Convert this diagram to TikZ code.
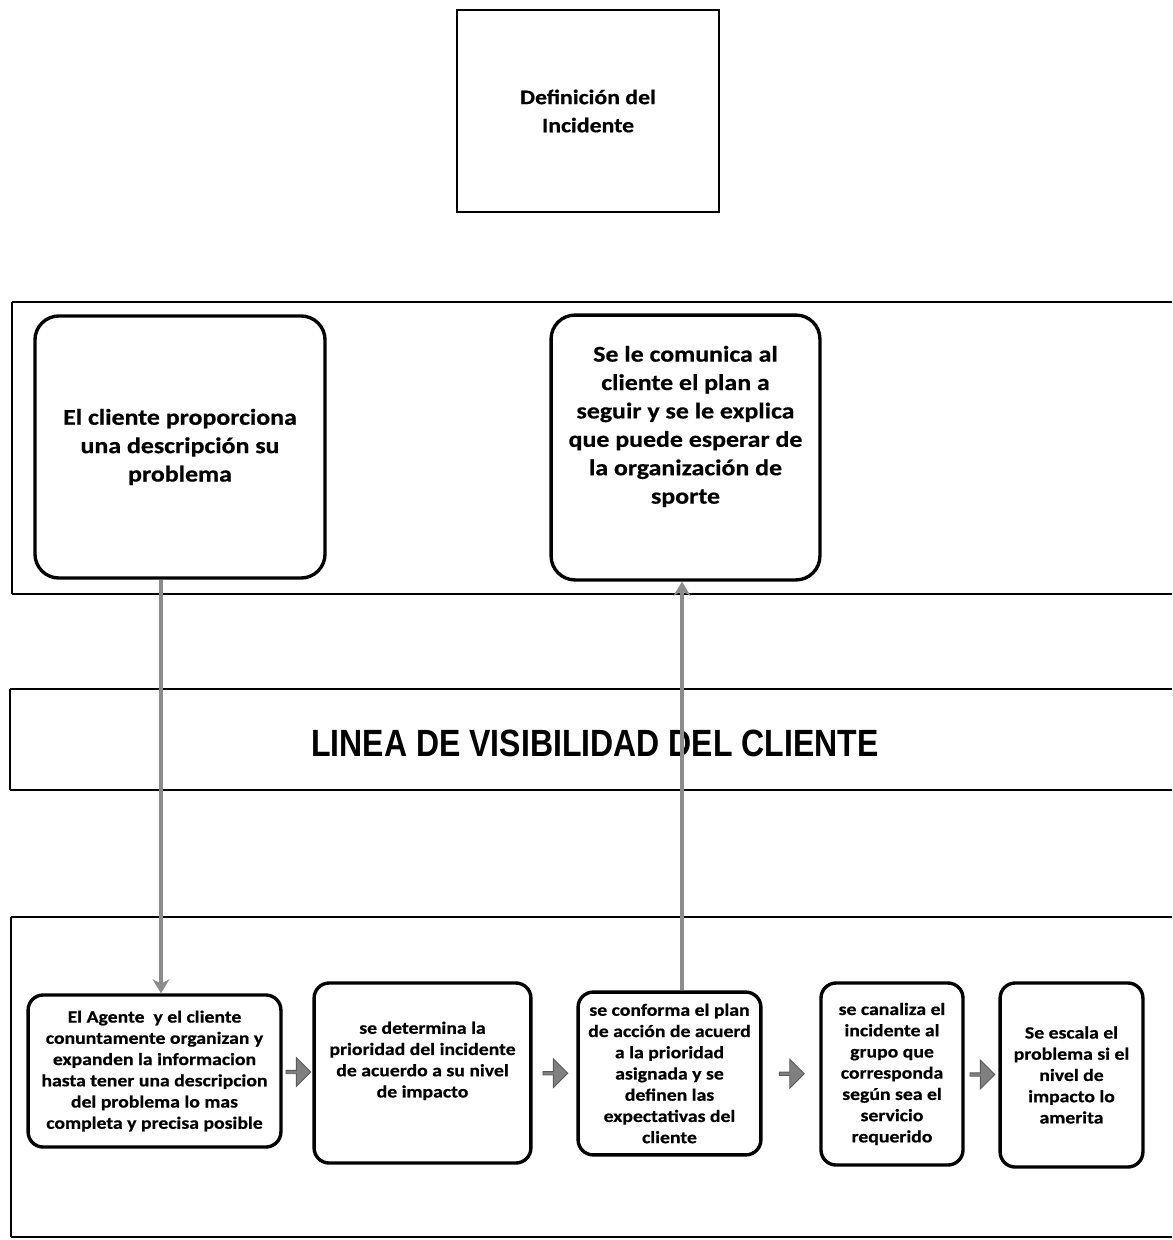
\documentclass[tikz,border=0pt]{standalone}
\usepackage{fontspec}
\setmainfont{Carlito}[FakeStretch=1.15, BoldFeatures={FakeBold=0.6}]
\newfontfamily\headfont{Liberation Sans}
\usetikzlibrary{shapes.arrows,calc,arrows.meta}

\begin{document}
\begin{tikzpicture}[x=0.025cm,y=-0.025cm,
  titlebox/.style={draw, line width=2pt, minimum width=6.55cm, minimum height=5.05cm,
    align=center, font=\fontsize{14.7}{20}\selectfont\bfseries},
  bigbox/.style={draw, line width=2.4pt, rounded corners=0.6cm, align=center,
    inner sep=0pt, font=\fontsize{16}{20.2}\selectfont\bfseries},
  stepbox/.style={draw, line width=2.4pt, rounded corners=0.38cm, align=center,
    inner sep=0pt, font=\fontsize{12.2}{15.1}\selectfont\bfseries},
  lane/.style={line width=2pt},
  laneside/.style={line width=0.9pt},
  link/.style={draw=black!45, line width=3pt,
    -{Stealth[length=10pt,width=12pt]}},
  flowarrow/.style={single arrow, draw=black!65, fill=black!50, line width=0.6pt,
    minimum height=0.62cm, minimum width=0.72cm, single arrow head extend=0.08cm,
    inner sep=0pt}]

% page
\path[fill=white, use as bounding box] (0,0) rectangle (1172,1240);

% title box
\node[titlebox] (def) at (588,111) {Definición del\\Incidente};

% customer lane
\draw[lane] (1172,302) -- (12,302);
\draw[laneside] (12,302) -- (12,594);
\draw[lane] (12,594) -- (1172,594);

% line of visibility lane
\draw[lane] (1172,689) -- (10,689);
\draw[laneside] (10,689) -- (10,790);
\draw[lane] (10,790) -- (1172,790);
\node[font=\headfont\bfseries\fontsize{27}{30}\selectfont] (vis) at (595,743)
  {\scalebox{0.843}[1]{LINEA DE VISIBILIDAD DEL CLIENTE}};

% back-office lane
\draw[lane] (1172,917) -- (11,917);
\draw[laneside] (11,917) -- (11,1237);
\draw[lane] (11,1237) -- (1172,1237);

% customer actions
\node[bigbox, minimum width=7.25cm, minimum height=6.55cm] (A) at (180,447)
  {El cliente proporciona\\una descripción su\\problema};
\node[bigbox, minimum width=6.72cm, minimum height=6.62cm] (B) at (685.5,447.5) {};
\node[align=center, font=\fontsize{16}{20.2}\selectfont\bfseries] (Btext) at (685.5,426.5)
  {Se le comunica al\\cliente el plan a\\seguir y se le explica\\que puede esperar de\\la organización de\\sporte};

% support steps
\node[stepbox, minimum width=6.32cm, minimum height=3.8cm] (P1) at (154.5,1071)
  {El Agente~ y el cliente\\conuntamente organizan y\\expanden la informacion\\hasta tener una descripcion\\del problema lo mas\\completa y precisa posible};
\node[stepbox, minimum width=5.42cm, minimum height=4.5cm] (P2) at (422.5,1073)
  {se determina la\\prioridad del incidente\\de acuerdo a su nivel\\de impacto\\[4pt]};
\node[stepbox, minimum width=4.57cm, minimum height=4.07cm] (P3) at (669.5,1073.5)
  {se conforma el plan\\de acción de acuerd\\a la prioridad\\asignada y se\\definen las\\expectativas del\\cliente};
\node[stepbox, minimum width=3.55cm, minimum height=4.55cm] (P4) at (892,1074)
  {se canaliza el\\incidente al\\grupo que\\corresponda\\según sea el\\servicio\\requerido};
\node[stepbox, minimum width=3.57cm, minimum height=4.6cm] (P5) at (1071.5,1075)
  {Se escala el\\problema si el\\nivel de\\impacto lo\\amerita};

% step-to-step arrows
\node[flowarrow] (f1) at ($(P1.east)!0.5!(P2.west)$) {};
\node[flowarrow] (f2) at ($(P2.east)!0.5!(P3.west)$) {};
\node[flowarrow] (f3) at ($(P3.east)!0.5!(P4.west)$) {};
\node[flowarrow] (f4) at ($(P4.east)!0.5!(P5.west)$) {};

% links across the visibility line
\coordinate (lx) at (161,0);
\coordinate (rx) at (682,0);
\draw[link] (A.south -| lx) -- (P1.north -| lx);
\draw[link] (P3.north -| rx) -- (B.south -| rx);
\end{tikzpicture}
\end{document}
